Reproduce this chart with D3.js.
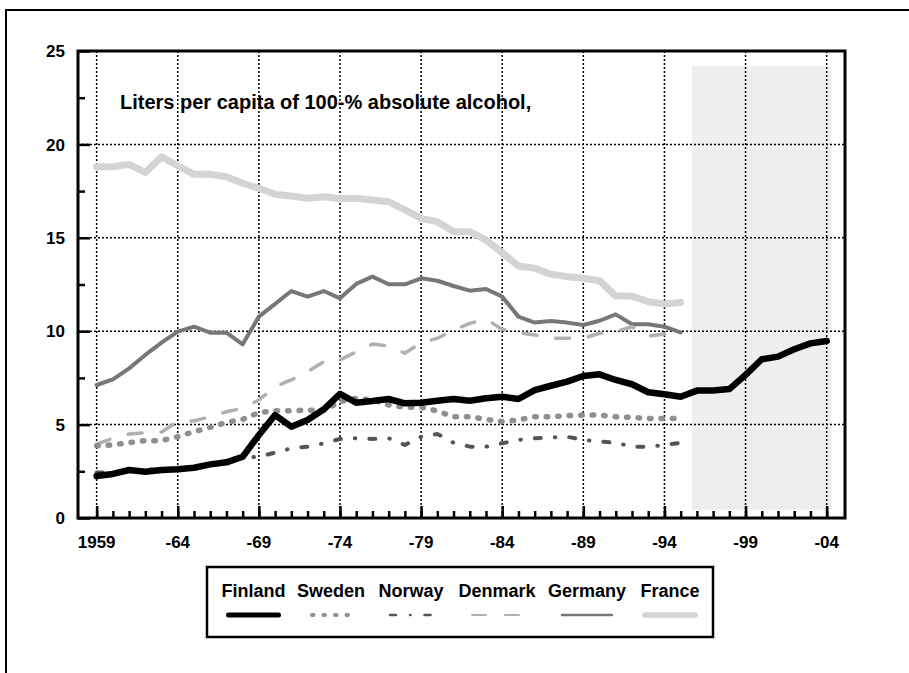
<!DOCTYPE html>
<html lang="en">
<head>
  <meta charset="UTF-8">
  <title>Alcohol consumption 1959-2004</title>
  <script src="https://d3js.org/d3.v7.min.js"></script>
  <style type="text/css">
    body {
      margin: 0;
      background: #fff;
    }
    svg text {
      font-family: 'Liberation Sans', Arial, Helvetica, sans-serif;
      font-weight: bold;
      fill: #000;
    }
  </style>
</head>
<body>
<div id="chart"></div>
<script>
  var years = [1959, 1960, 1961, 1962, 1963, 1964, 1965, 1966, 1967, 1968,
    1969, 1970, 1971, 1972, 1973, 1974, 1975, 1976, 1977, 1978,
    1979, 1980, 1981, 1982, 1983, 1984, 1985, 1986, 1987, 1988,
    1989, 1990, 1991, 1992, 1993, 1994, 1995, 1996, 1997, 1998,
    1999, 2000, 2001, 2002, 2003, 2004];

  var finland = [2.25, 2.36, 2.57, 2.48, 2.57, 2.61, 2.69, 2.87, 2.98, 3.28,
    4.44, 5.51, 4.89, 5.25, 5.82, 6.64, 6.17, 6.26, 6.37, 6.14,
    6.17, 6.28, 6.37, 6.28, 6.41, 6.49, 6.37, 6.85, 7.08, 7.30,
    7.60, 7.69, 7.39, 7.16, 6.73, 6.62, 6.49, 6.82, 6.82, 6.90,
    7.66, 8.50, 8.64, 9.03, 9.35, 9.48];
  var sweden = [3.87, 3.91, 4.03, 4.14, 4.14, 4.35, 4.62, 4.85, 5.12, 5.28,
    5.64, 5.74, 5.74, 5.78, 5.75, 6.23, 6.41, 6.32, 6.05, 5.93,
    5.93, 5.73, 5.42, 5.42, 5.28, 5.16, 5.25, 5.42, 5.42, 5.48,
    5.51, 5.51, 5.42, 5.39, 5.32, 5.32, 5.32];
  var norway = [2.43, 2.45, 2.53, 2.60, 2.61, 2.62, 2.75, 2.90, 3.00, 3.22,
    3.28, 3.50, 3.73, 3.82, 4.00, 4.23, 4.27, 4.23, 4.27, 3.91,
    4.35, 4.50, 4.03, 3.82, 3.82, 4.00, 4.18, 4.27, 4.32, 4.35,
    4.18, 4.09, 4.03, 3.82, 3.82, 3.90, 4.03];
  var denmark = [3.96, 4.27, 4.50, 4.57, 4.60, 5.16, 5.20, 5.42, 5.69, 5.87,
    6.32, 7.03, 7.39, 7.83, 8.37, 8.46, 8.90, 9.31, 9.21, 8.82,
    9.39, 9.62, 10.06, 10.42, 10.64, 10.10, 9.92, 9.80, 9.62, 9.62,
    9.62, 9.89, 9.98, 10.24, 9.74, 9.85];
  var germany = [7.12, 7.42, 8.01, 8.73, 9.39, 9.98, 10.24, 9.92, 9.92, 9.30,
    10.78, 11.46, 12.15, 11.85, 12.15, 11.76, 12.53, 12.92, 12.51, 12.51,
    12.83, 12.70, 12.42, 12.17, 12.26, 11.85, 10.78, 10.46, 10.55, 10.46,
    10.33, 10.56, 10.90, 10.37, 10.37, 10.24, 9.94];
  var france = [18.81, 18.80, 18.93, 18.50, 19.34, 18.86, 18.40, 18.40, 18.27, 17.92,
    17.65, 17.33, 17.24, 17.11, 17.20, 17.10, 17.11, 17.02, 16.93, 16.49,
    16.04, 15.86, 15.33, 15.33, 14.88, 14.20, 13.49, 13.37, 13.05, 12.92,
    12.83, 12.70, 11.88, 11.88, 11.58, 11.46, 11.55];

  var countries = ['Finland', 'Sweden', 'Norway', 'Denmark', 'Germany', 'France'];
  var seriesValues = [finland, sweden, norway, denmark, germany, france];

  var xTickYears = [1959, 1964, 1969, 1974, 1979, 1984, 1989, 1994, 1999, 2004];
  var xTickLabels = ['1959', '-64', '-69', '-74', '-79', '-84', '-89', '-94', '-99', '-04'];
  var yTicks = [0, 5, 10, 15, 20, 25];
  var yMinorTicks = [2.5, 7.5, 12.5, 17.5, 22.5];

  // shaded period (years) and its value span
  var shadeYears = [1995.7, 2004.3];
  var shadeValues = [0.45, 24.2];

  var chartTitle = 'Liters per capita of 100-% absolute alcohol,';

  function main () {
    var WIDTH = 909,
      HEIGHT = 673,
      PLOT = {left: 78, top: 51, right: 845, bottom: 518};

    var styles = {
      Finland: {color: '#000000', width: 6.5, dash: null},
      Sweden: {color: '#8f8f8f', width: 5.5, dash: '1.5,10'},
      Norway: {color: '#555555', width: 4, dash: '6,14,0.5,14'},
      Denmark: {color: '#b0b0b0', width: 3.5, dash: '14,19'},
      Germany: {color: '#777777', width: 4, dash: null},
      France: {color: '#d4d4d4', width: 7, dash: null}
    };

    var svg = d3.select('#chart')
      .append('svg')
      .attr('width', WIDTH)
      .attr('height', HEIGHT);

    // outer frame (top and left edge only visible)
    svg.append('path')
      .attr('d', 'M6,' + HEIGHT + 'V10H' + WIDTH)
      .attr('fill', 'none')
      .attr('stroke', '#000')
      .attr('stroke-width', 2);

    var xScale = d3.scaleLinear()
      .domain([1957.85, 2005.13])
      .range([PLOT.left, PLOT.right]);
    var yScale = d3.scaleLinear()
      .domain([0, 25])
      .range([PLOT.bottom, PLOT.top]);

    // shaded forecast area
    svg.append('rect')
      .attr('x', xScale(shadeYears[0]))
      .attr('y', yScale(shadeValues[1]))
      .attr('width', xScale(shadeYears[1]) - xScale(shadeYears[0]))
      .attr('height', yScale(shadeValues[0]) - yScale(shadeValues[1]))
      .attr('fill', '#eeeeee');

    svg.append('text')
      .attr('x', 120)
      .attr('y', 109)
      .style('font-size', '20px')
      .text(chartTitle);

    // dotted grid
    var grid = svg.append('g')
      .attr('stroke', '#000')
      .attr('stroke-width', 1.5)
      .attr('stroke-dasharray', '2,2');
    grid.selectAll('line.v')
      .data(xTickYears)
      .enter()
      .append('line')
      .attr('class', 'v')
      .attr('x1', function (d) { return xScale(d); })
      .attr('x2', function (d) { return xScale(d); })
      .attr('y1', PLOT.top)
      .attr('y2', PLOT.bottom);
    grid.selectAll('line.h')
      .data(yTicks.slice(1, -1))
      .enter()
      .append('line')
      .attr('class', 'h')
      .attr('x1', PLOT.left)
      .attr('x2', PLOT.right)
      .attr('y1', function (d) { return yScale(d); })
      .attr('y2', function (d) { return yScale(d); });

    // series lines
    var line = d3.line()
      .x(function (d) { return xScale(d[0]); })
      .y(function (d) { return yScale(d[1]); });

    // draw light ones first so the black line sits on top
    var order = [5, 4, 3, 1, 2, 0];
    order.forEach(function (i) {
      var name = countries[i],
        st = styles[name],
        pts = seriesValues[i].map(function (v, j) { return [years[j], v]; });
      svg.append('path')
        .datum(pts)
        .attr('d', line)
        .attr('fill', 'none')
        .attr('stroke', st.color)
        .attr('stroke-width', st.width)
        .attr('stroke-linecap', 'round')
        .attr('stroke-linejoin', 'round')
        .attr('stroke-dasharray', st.dash);
    });

    // axes with inward ticks
    function ticksOnly (g) {
      g.select('.domain').remove();
      g.selectAll('line').attr('stroke-width', 2.5);
    }
    svg.append('g')
      .attr('transform', 'translate(0,' + PLOT.bottom + ')')
      .call(d3.axisTop(xScale).tickValues(years).tickSize(7).tickFormat(''))
      .call(ticksOnly);
    svg.append('g')
      .attr('transform', 'translate(0,' + PLOT.bottom + ')')
      .call(d3.axisTop(xScale).tickValues(xTickYears).tickSize(12).tickFormat(''))
      .call(ticksOnly);
    svg.append('g')
      .attr('transform', 'translate(' + PLOT.left + ',0)')
      .call(d3.axisRight(yScale).tickValues(yMinorTicks).tickSize(7).tickFormat(''))
      .call(ticksOnly);
    svg.append('g')
      .attr('transform', 'translate(' + PLOT.left + ',0)')
      .call(d3.axisRight(yScale).tickValues(yTicks).tickSize(12).tickFormat(''))
      .call(ticksOnly);

    // plot frame
    svg.append('rect')
      .attr('x', PLOT.left)
      .attr('y', PLOT.top)
      .attr('width', PLOT.right - PLOT.left)
      .attr('height', PLOT.bottom - PLOT.top)
      .attr('fill', 'none')
      .attr('stroke', '#000')
      .attr('stroke-width', 3);

    // tick labels
    svg.selectAll('text.xlab')
      .data(xTickYears)
      .enter()
      .append('text')
      .attr('class', 'xlab')
      .attr('x', function (d) { return xScale(d); })
      .attr('y', 548)
      .attr('text-anchor', 'middle')
      .style('font-size', '17px')
      .text(function (d, i) { return xTickLabels[i]; });
    svg.selectAll('text.ylab')
      .data(yTicks)
      .enter()
      .append('text')
      .attr('class', 'ylab')
      .attr('x', 65)
      .attr('y', function (d) { return yScale(d); })
      .attr('dy', '0.36em')
      .attr('text-anchor', 'end')
      .style('font-size', '17px')
      .text(function (d) { return d; });

    // legend
    var legendX = [253.5, 331, 411, 497, 587, 670];
    var legend = svg.append('g');
    legend.append('rect')
      .attr('x', 207)
      .attr('y', 567)
      .attr('width', 506)
      .attr('height', 70)
      .attr('fill', '#fff')
      .attr('stroke', '#000')
      .attr('stroke-width', 2.5);
    countries.forEach(function (name, i) {
      var st = styles[name];
      legend.append('text')
        .attr('x', legendX[i])
        .attr('y', 597)
        .attr('text-anchor', 'middle')
        .style('font-size', '18px')
        .text(name);
      var half = name === 'Sweden' ? 19 : (name === 'Norway' ? 21 : 25);
      legend.append('line')
        .attr('x1', legendX[i] - half)
        .attr('x2', legendX[i] + half)
        .attr('y1', 615)
        .attr('y2', 615)
        .attr('stroke', st.color)
        .attr('stroke-width', st.width - 1.5)
        .attr('stroke-linecap', 'round')
        .attr('stroke-dasharray', st.dash);
    });
  }

  main();
</script>
</body>
</html>
